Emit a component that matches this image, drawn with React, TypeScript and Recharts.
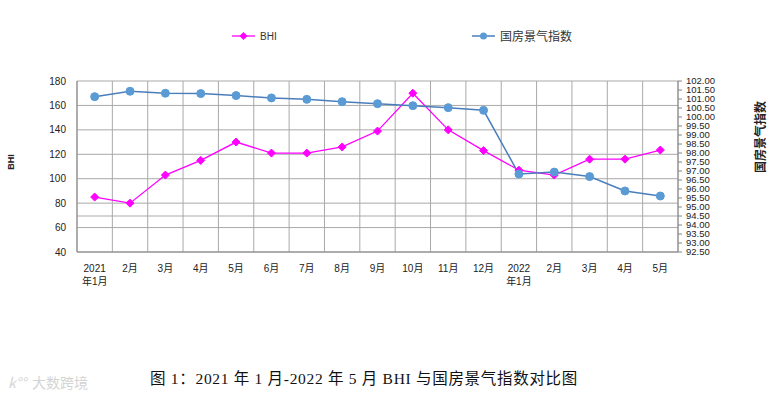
import { LineChart, Line, XAxis, YAxis, CartesianGrid, ReferenceLine } from "recharts";

const months = [
  "2021\n年1月", "2月", "3月", "4月", "5月", "6月", "7月", "8月", "9月",
  "10月", "11月", "12月", "2022\n年1月", "2月", "3月", "4月", "5月",
];
const bhi = [85, 80, 103, 115, 130, 121, 121, 126, 139, 170, 140, 123, 107, 103, 116, 116, 123.5];
const housingIndex = [
  101.13, 101.43, 101.32, 101.3, 101.19, 101.06, 100.98, 100.85, 100.74,
  100.63, 100.52, 100.37, 96.83, 96.94, 96.69, 95.89, 95.61,
];
const leftTicks = [40, 60, 80, 100, 120, 140, 160, 180];
const rightTicks = [
  92.5, 93, 93.5, 94, 94.5, 95, 95.5, 96, 96.5, 97, 97.5, 98, 98.5, 99, 99.5,
  100, 100.5, 101, 101.5, 102,
];

const data = months.map((m, i) => ({ idx: i, month: m, bhi: bhi[i], index: housingIndex[i] }));
const xTicks = data.map((d) => d.idx);
const boundaries = [...xTicks.map((i) => i - 0.5), xTicks.length - 0.5];

const FONT = "'Liberation Sans', Arial, 'Noto Sans CJK SC', sans-serif";
const GRID = "#a9a9a9";
const MAGENTA = "#ff00ff";
const BLUE_LINE = "#4a7ebb";
const BLUE_DOT = "#5b9bd5";

const Diamond = (props: any) => {
  const { cx, cy } = props;
  if (cx == null || cy == null) return null;
  const r = 4;
  return (
    <polygon
      points={`${cx},${cy - r} ${cx + r},${cy} ${cx},${cy + r} ${cx - r},${cy}`}
      fill={MAGENTA}
      stroke={MAGENTA}
    />
  );
};

const MonthTick = (props: any) => {
  const { x, y, payload } = props;
  const lines = months[payload.value].split("\n");
  return (
    <text x={x} y={y} textAnchor="middle" fontSize={10} fontFamily={FONT} fill="#222">
      {lines.map((l, i) => (
        <tspan key={i} x={x} dy={i === 0 ? 12 : 13}>
          {l}
        </tspan>
      ))}
    </text>
  );
};

export default function App() {
  return (
    <div style={{ position: "absolute", left: 0, top: 0, width: 773, height: 398, background: "#fff", fontFamily: FONT }}>
      <LineChart width={773} height={300} data={data} margin={{ top: 81, right: 15, bottom: 8, left: 20 }}>
        <CartesianGrid vertical={false} stroke={GRID} yAxisId="left" />
        {boundaries.map((b) => (
          <ReferenceLine key={b} x={b} yAxisId="left" stroke={GRID} />
        ))}
        <ReferenceLine y={94.5} yAxisId="right" stroke={GRID} />
        <XAxis
          dataKey="idx"
          type="number"
          domain={[-0.5, 16.5]}
          ticks={xTicks}
          interval={0}
          height={40}
          tickLine={false}
          stroke="#868686"
          tick={<MonthTick />}
        />
        <YAxis
          yAxisId="left"
          width={57}
          domain={[40, 180]}
          ticks={leftTicks}
          interval={0}
          tickLine={false}
          stroke="#868686"
          tick={{ fontSize: 10, fill: "#222", fontFamily: FONT }}
          tickMargin={5}
        />
        <YAxis
          yAxisId="right"
          orientation="right"
          width={80}
          domain={[92.5, 102]}
          ticks={rightTicks}
          interval={0}
          tickSize={4}
          tickMargin={4}
          stroke="#868686"
          tickFormatter={(v: number) => v.toFixed(2)}
          tick={{ fontSize: 9.5, fill: "#222", fontFamily: FONT }}
        />
        <Line
          yAxisId="left"
          dataKey="bhi"
          type="linear"
          stroke={MAGENTA}
          strokeWidth={1.3}
          dot={<Diamond />}
          isAnimationActive={false}
        />
        <Line
          yAxisId="right"
          dataKey="index"
          type="linear"
          stroke={BLUE_LINE}
          strokeWidth={1.5}
          dot={{ r: 4, fill: BLUE_DOT, stroke: BLUE_DOT, strokeWidth: 1 }}
          isAnimationActive={false}
        />
      </LineChart>

      {/* legend */}
      <svg style={{ position: "absolute", left: 225, top: 26 }} width={360} height={20}>
        <line x1={7} y1={10} x2={30} y2={10} stroke={MAGENTA} strokeWidth={1.3} />
        <polygon points="18.5,6 22.5,10 18.5,14 14.5,10" fill={MAGENTA} />
        <text x={35} y={14} fontSize={10} fill="#333" fontFamily={FONT}>BHI</text>
        <line x1={247} y1={10} x2={270} y2={10} stroke={BLUE_LINE} strokeWidth={1.5} />
        <circle cx={258.5} cy={10} r={3.5} fill={BLUE_DOT} />
        <text x={275} y={14.5} fontSize={12} fill="#333" fontFamily={FONT}>国房景气指数</text>
      </svg>

      {/* axis titles */}
      <div
        style={{
          position: "absolute", left: 11, top: 162, transform: "translate(-50%,-50%) rotate(-90deg)",
          fontSize: 9, fontWeight: "bold", color: "#222", whiteSpace: "nowrap",
        }}
      >
        BHI
      </div>
      <div
        style={{
          position: "absolute", left: 759, top: 137, transform: "translate(-50%,-50%) rotate(-90deg)",
          fontSize: 12, fontWeight: "bold", color: "#222", whiteSpace: "nowrap",
          fontFamily: "'Noto Sans CJK SC', sans-serif",
        }}
      >
        国房景气指数
      </div>

      {/* caption */}
      <div
        style={{
          position: "absolute", left: 150, top: 366, fontSize: 15.5, color: "#111", whiteSpace: "nowrap",
          letterSpacing: 0.7, fontFamily: "'Liberation Serif', 'Noto Sans CJK SC', serif",
        }}
      >
        图 1：2021 年 1 月-2022 年 5 月 BHI 与国房景气指数对比图
      </div>
      <div
        style={{
          position: "absolute", left: 8, top: 372, fontSize: 14, color: "#d4d4d4", whiteSpace: "nowrap",
          fontFamily: "'Noto Sans CJK SC', sans-serif",
        }}
      >
        <span style={{ fontStyle: "italic", marginRight: 6 }}>k°°</span>大数跨境
      </div>
    </div>
  );
}
